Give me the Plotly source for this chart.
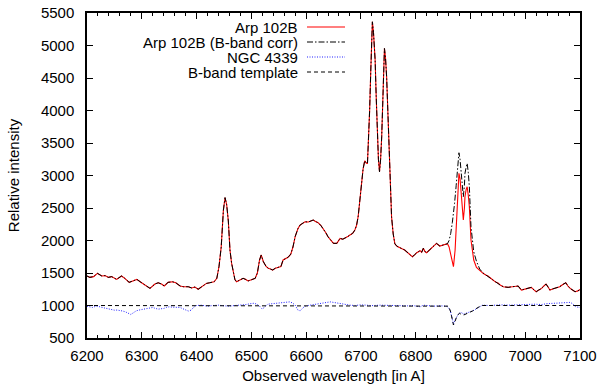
import plotly.graph_objects as go

# ---------------- data ----------------
arp_wl = [6200, 6205, 6212, 6219, 6227, 6233, 6239, 6245, 6254, 6263, 6269, 6277, 6285, 6291, 6297,
          6303, 6309, 6315, 6324, 6330, 6336, 6341, 6348, 6356, 6362, 6370, 6376, 6385, 6391, 6397,
          6403, 6410, 6418, 6424, 6432, 6437, 6441, 6445, 6449, 6452, 6455, 6458, 6461, 6464, 6467,
          6470, 6473, 6479, 6485, 6490, 6494, 6500, 6507, 6511, 6515, 6518, 6522, 6527, 6531, 6535,
          6539, 6544, 6549, 6554, 6558, 6563, 6567, 6572, 6576, 6580, 6585, 6589, 6594, 6598, 6604,
          6609, 6613, 6618, 6622, 6627, 6631, 6636, 6640, 6645, 6650, 6656, 6662, 6667, 6671, 6676,
          6680, 6685, 6689, 6692, 6695, 6698, 6701, 6704, 6707, 6710, 6712, 6714, 6716, 6718, 6721,
          6723, 6726, 6728, 6730, 6732, 6734, 6736, 6738, 6740, 6743, 6745, 6747, 6750, 6752, 6754,
          6756, 6759, 6762, 6766, 6771, 6776, 6780, 6786, 6790, 6794, 6798, 6802, 6808, 6811, 6814,
          6817, 6820, 6826, 6832, 6838, 6844, 6848, 6853, 6858, 6861, 6864, 6867, 6869, 6872, 6874,
          6876, 6879, 6881, 6883, 6885, 6887, 6889, 6890, 6892, 6894, 6896, 6898, 6901, 6903, 6906,
          6911, 6917, 6923, 6928, 6932, 6937, 6942, 6946, 6951, 6955, 6960, 6965, 6969, 6973, 6978,
          6983, 6987, 6993, 6998, 7002, 7007, 7011, 7016, 7020, 7025, 7030, 7034, 7038, 7042, 7045,
          7050, 7054, 7058, 7063, 7068, 7074, 7078, 7082, 7087, 7091, 7096, 7100]
arp_flux = [1454, 1433, 1444, 1495, 1454, 1460, 1433, 1444, 1402, 1454, 1418, 1356, 1382, 1402, 1366,
            1330, 1289, 1264, 1330, 1350, 1330, 1300, 1356, 1366, 1350, 1300, 1289, 1289, 1270, 1285,
            1250, 1290, 1340, 1350, 1365, 1418, 1600, 1900, 2469, 2660, 2550, 2300, 1853, 1650, 1495,
            1400, 1366, 1390, 1418, 1400, 1377, 1395, 1418, 1500, 1700, 1777, 1674, 1600, 1572, 1560,
            1546, 1575, 1587, 1600, 1700, 1720, 1741, 1790, 1900, 2060, 2180, 2238, 2270, 2289, 2284,
            2300, 2315, 2290, 2274, 2230, 2187, 2120, 2058, 2010, 1956, 1956, 2033, 2020, 2033, 2060,
            2084, 2110, 2161, 2230, 2366, 2600, 2879, 3100, 3227, 3190, 3187, 3500, 4006, 4600, 5365,
            5200, 4776, 4200, 3596, 3250, 3058, 3250, 3596, 4300, 4955, 4800, 4519, 3800, 3238, 2700,
            2366, 2100, 1950, 1910, 1895, 1870, 1853, 1812, 1790, 1750, 1780, 1812, 1843, 1820, 1880,
            1830, 1812, 1864, 1904, 1956, 1915, 1925, 1930, 1950, 1900, 1802, 1680, 1597, 1853, 2150,
            2520, 3033, 2950, 2725, 2500, 2315, 2500, 2674, 2780, 2827, 2700, 2520, 2007, 1850, 1700,
            1587, 1535, 1495, 1470, 1454, 1420, 1381, 1360, 1341, 1310, 1289, 1280, 1279, 1285, 1289,
            1295, 1300, 1238, 1250, 1263, 1270, 1279, 1240, 1212, 1240, 1263, 1300, 1330, 1280, 1238,
            1255, 1263, 1275, 1289, 1320, 1350, 1300, 1263, 1235, 1212, 1225, 1245]

# B-band corrected spectrum: differs from Arp 102B only inside the B band
corr_band_wl = [6858, 6861, 6864, 6867, 6869, 6871, 6874, 6876, 6879, 6881, 6883, 6885, 6887, 6889,
                6890, 6892, 6894, 6896, 6898, 6901, 6903, 6906, 6911, 6914, 6917, 6923]
corr_band_flux = [1950, 2000, 2110, 2280, 2400, 2571, 2850, 3084, 3350, 3250, 3084, 2880, 2673, 2850,
                  3033, 3120, 3187, 3050, 2827, 2212, 2000, 1827, 1680, 1623, 1560, 1500]

ngc_wl = [6200, 6205, 6210, 6215, 6220, 6225, 6230, 6235, 6240, 6245, 6250, 6255, 6260, 6265, 6270,
          6275, 6280, 6285, 6290, 6295, 6300, 6305, 6310, 6315, 6320, 6325, 6330, 6335, 6340, 6345,
          6350, 6355, 6360, 6365, 6370, 6375, 6380, 6385, 6390, 6395, 6400, 6405, 6410, 6415, 6420,
          6430, 6440, 6450, 6460, 6470, 6480, 6490, 6500, 6505, 6510, 6515, 6520, 6525, 6530, 6535,
          6540, 6550, 6560, 6565, 6570, 6575, 6580, 6585, 6589, 6595, 6600, 6607, 6615, 6625, 6635,
          6644, 6652, 6662, 6670, 6680, 6690, 6699, 6710, 6720, 6735, 6750, 6760, 6772, 6785, 6795,
          6808, 6814, 6822, 6833, 6845, 6857, 6863, 6866, 6869, 6873, 6876, 6879, 6883, 6888, 6894,
          6898, 6903, 6907, 6912, 6917, 6922, 6935, 6955, 6970, 6986, 7000, 7016, 7030, 7041, 7055,
          7065, 7072, 7077, 7082, 7086, 7092, 7100]
ngc_flux = [990, 975, 970, 985, 990, 975, 964, 950, 938, 935, 928, 930, 928, 915, 903,
            885, 862, 890, 918, 930, 938, 945, 954, 965, 970, 955, 944, 950, 954, 970,
            980, 975, 970, 975, 970, 950, 928, 915, 928, 975, 1000, 1008, 1005, 995, 990,
            1000, 1005, 995, 990, 1000, 1005, 1015, 1030, 1035, 1020, 990, 944, 990, 1020, 1025,
            1030, 1040, 1056, 1060, 1056, 1040, 1005, 930, 918, 970, 995, 1005, 1015, 1030, 1045,
            1056, 1045, 1030, 1015, 1005, 1000, 1010, 1005, 998, 1005, 1000, 995, 990, 995, 1000,
            980, 1005, 995, 990, 995, 990, 928, 800, 713, 800, 850, 877, 893, 867, 887,
            895, 913, 930, 954, 985, 1005, 1000, 1010, 1005, 1012, 1010, 1020, 1015, 1030, 1035,
            1041, 1050, 1056, 1048, 1030, 980, 970]

tmpl_wl = [6200, 6855, 6860, 6864, 6867, 6869, 6872, 6876, 6880, 6884, 6888, 6892, 6896, 6900,
           6905, 6910, 6915, 6920, 7100]
tmpl_flux = [1000, 1000, 990, 900, 780, 700, 760, 850, 880, 860, 855, 870, 880, 900,
             920, 950, 980, 1000, 1000]

series_names = ["Arp 102B", "Arp 102B (B-band corr)", "NGC 4339", "B-band template"]
x_ticks = [6200, 6300, 6400, 6500, 6600, 6700, 6800, 6900, 7000, 7100]
y_ticks = [500, 1000, 1500, 2000, 2500, 3000, 3500, 4000, 4500, 5000, 5500]

# build the full corrected series from the read values
lo, hi = corr_band_wl[0], corr_band_wl[-1]
corr_wl, corr_flux = [], []
for w, f in zip(arp_wl, arp_flux):
    if w < lo:
        corr_wl.append(w); corr_flux.append(f)
corr_wl += corr_band_wl
corr_flux += corr_band_flux
for w, f in zip(arp_wl, arp_flux):
    if w > hi:
        corr_wl.append(w); corr_flux.append(f)

FONT = "Liberation Sans, Arial, Helvetica, sans-serif"
FS = 15
styles = [
    dict(color="#ff0000", width=1.1, dash="solid"),
    dict(color="#000000", width=1.0, dash="6px,2px,1.5px,2px"),
    dict(color="#2020ff", width=1.0, dash="1px,1.5px"),
    dict(color="#000000", width=1.0, dash="4px,3px"),
]
data = [(arp_wl, arp_flux), (corr_wl, corr_flux), (ngc_wl, ngc_flux), (tmpl_wl, tmpl_flux)]

fig = go.Figure()
for (xs, ys), name, st in zip(data, series_names, styles):
    fig.add_trace(go.Scatter(x=xs, y=ys, mode="lines", name=name, line=st,
                             showlegend=False, hoverinfo="skip"))

# plot area in pixels
L, R, T, B = 87, 580, 13, 338
W, H = R - L, B - T

def px(xp):
    return (xp - L) / W

def py(yp):
    return (B - yp) / H

annotations = []
shapes = []
rows = [27, 42, 57, 72]
for name, st, yr in zip(series_names, styles, rows):
    annotations.append(dict(x=px(299), y=py(yr), xref="paper", yref="paper", text=name,
                            showarrow=False, xanchor="right", yanchor="middle",
                            borderpad=0,
                            font=dict(family=FONT, size=FS, color="#000")))
    shapes.append(dict(type="line", xref="paper", yref="paper", x0=px(307), x1=px(345),
                       y0=py(yr), y1=py(yr), line=st, layer="above"))

fig.update_layout(
    width=600, height=388,
    margin=dict(l=L, r=600 - R, t=T, b=388 - B, autoexpand=False),
    paper_bgcolor="white", plot_bgcolor="white",
    font=dict(family=FONT, size=FS, color="#000"),
    annotations=annotations, shapes=shapes,
    xaxis=dict(range=[6200, 7100], tickvals=x_ticks, ticks="inside", ticklen=6, tickwidth=1,
               tickcolor="#000", mirror="ticks", showline=True, linecolor="#000", linewidth=1.5,
               showgrid=False, zeroline=False, ticklabelstandoff=3, automargin=False,
               minor=dict(dtick=20, tick0=6200, ticks="inside", ticklen=3, tickcolor="#000", showgrid=False),
               title=dict(text="Observed wavelength [in A]", font=dict(size=FS), standoff=8),
               tickfont=dict(size=FS)),
    yaxis=dict(range=[500, 5500], tickvals=y_ticks, ticks="inside", ticklen=6, tickwidth=1,
               tickcolor="#000", mirror="ticks", showline=True, linecolor="#000", linewidth=1.5,
               showgrid=False, zeroline=False, ticklabelstandoff=8, automargin=False,
               title=dict(text="Relative intensity", font=dict(size=FS), standoff=18),
               tickfont=dict(size=FS)),
)

fig.write_html("out.html")
